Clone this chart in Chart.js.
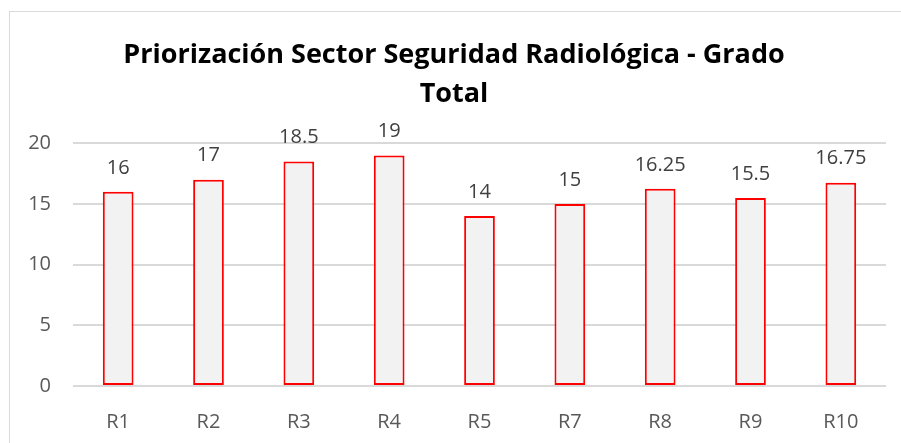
<!DOCTYPE html>
<html>
<head>
<meta charset="utf-8">
<script src="https://cdn.jsdelivr.net/npm/chart.js@4"></script>
<style>
  body { margin: 0; background: #fff; }
  #frame { position: absolute; left: 9px; top: 11px; width: 900px; height: 440px; border: 1px solid #d9d9d9; border-right: none; border-bottom: none; }
  #wrap { position: absolute; left: 0; top: 0; width: 901px; height: 443px; }
</style>
</head>
<body>
<div id="frame"></div>
<div id="wrap"><canvas id="chart"></canvas></div>
<script>
const categories = ['R1', 'R2', 'R3', 'R4', 'R5', 'R7', 'R8', 'R9', 'R10'];
const totals = [16, 17, 18.5, 19, 14, 15, 16.25, 15.5, 16.75];
const yTicks = [0, 5, 10, 15, 20];

const fontFamily = "'Open Sans', 'Liberation Sans', sans-serif";

// etiquetas encima de cada barra
const valueLabels = {
    id: 'valueLabels',
    afterDatasetsDraw(chart) {
        const ctx = chart.ctx;
        const meta = chart.getDatasetMeta(0);
        ctx.save();
        ctx.font = '20px ' + fontFamily;
        ctx.fillStyle = '#404040';
        ctx.textAlign = 'center';
        ctx.textBaseline = 'bottom';
        meta.data.forEach((bar, i) => {
            ctx.fillText(String(totals[i]), bar.x, bar.y - 14);
        });
        ctx.restore();
    }
};

new Chart(document.getElementById('chart'), {
    type: 'bar',
    data: {
        labels: categories,
        datasets: [{
            data: totals,
            backgroundColor: '#f2f2f2',
            borderColor: '#ff0000',
            borderWidth: 2,
            borderSkipped: false,
            categoryPercentage: 1,
            barPercentage: 0.34
        }]
    },
    options: {
        responsive: true,
        maintainAspectRatio: false,
        animation: false,
        layout: { padding: { left: 22, right: 15, top: 14, bottom: 0 } },
        plugins: {
            legend: { display: false },
            tooltip: { enabled: false },
            title: {
                display: true,
                text: ['Priorización Sector Seguridad Radiológica - Grado', 'Total'],
                color: '#000',
                font: { family: fontFamily, size: 27, weight: 'bold', lineHeight: 1.45 },
                padding: { top: 22, bottom: 29 }
            }
        },
        scales: {
            x: {
                grid: { display: false },
                border: { display: false },
                ticks: { color: '#595959', font: { family: fontFamily, size: 20 }, padding: 16 },
                afterFit: (scale) => { scale.height = 57; }
            },
            y: {
                min: 0,
                max: 20,
                afterBuildTicks: (scale) => { scale.ticks = yTicks.map(v => ({ value: v })); },
                grid: { color: '#d9d9d9', lineWidth: 2, drawTicks: false },
                border: { display: false },
                ticks: { color: '#595959', font: { family: fontFamily, size: 20 }, padding: 22 },
                afterFit: (scale) => { scale.width = 51; }
            }
        }
    },
    plugins: [valueLabels]
});
</script>
</body>
</html>
